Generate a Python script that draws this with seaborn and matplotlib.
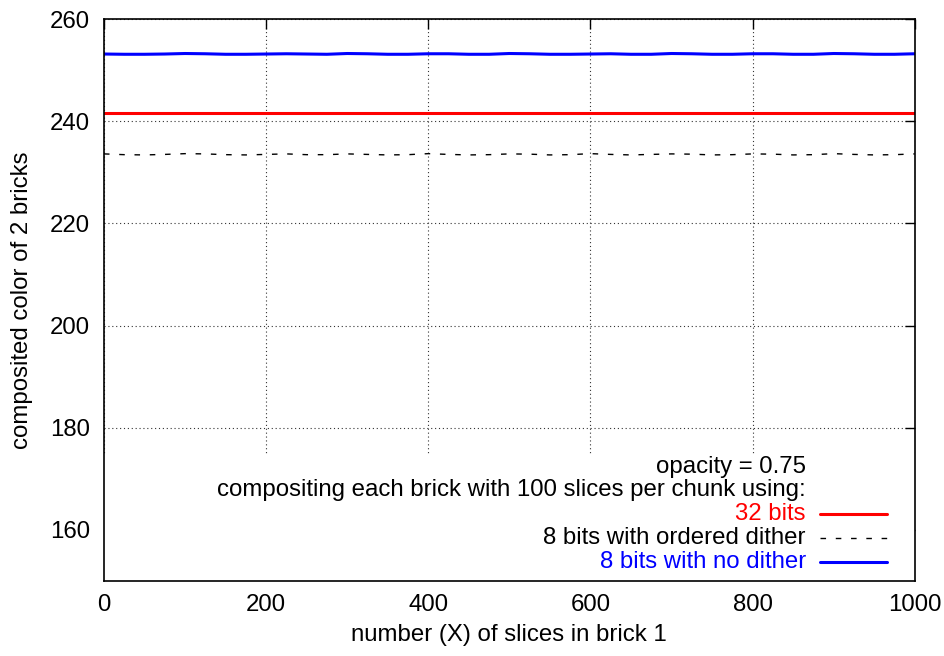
import os
import numpy as np
import pandas as pd
import matplotlib
matplotlib.use("Agg")
import matplotlib.pyplot as plt
import matplotlib.font_manager as fm
from matplotlib.patches import Rectangle
from matplotlib.lines import Line2D
import seaborn as sns

# number of slices in brick 1
slices = [0, 25, 50, 75, 100, 125, 150, 175, 200, 225, 250, 275, 300, 325, 350,
          375, 400, 425, 450, 475, 500, 525, 550, 575, 600, 625, 650, 675, 700,
          725, 750, 775, 800, 825, 850, 875, 900, 925, 950, 975, 1000]

# composited colour, 32-bit float compositing
bits32 = [241.65] * len(slices)

# composited colour, 8-bit with ordered dither
ordered_dither = [233.6, 233.45, 233.4, 233.5, 233.65, 233.6, 233.45, 233.4, 233.5,
                  233.6, 233.45, 233.45, 233.6, 233.5, 233.4, 233.45, 233.65, 233.5,
                  233.4, 233.45, 233.6, 233.55, 233.4, 233.45, 233.65, 233.5, 233.4,
                  233.5, 233.6, 233.55, 233.4, 233.45, 233.6, 233.55, 233.4, 233.45,
                  233.65, 233.5, 233.4, 233.45, 233.6]

# composited colour, 8-bit with no dither
no_dither = [253.15, 253.1, 253.1, 253.15, 253.25, 253.2, 253.1, 253.1, 253.15,
             253.2, 253.15, 253.1, 253.25, 253.2, 253.1, 253.1, 253.2, 253.2,
             253.1, 253.1, 253.25, 253.2, 253.1, 253.1, 253.15, 253.2, 253.1,
             253.1, 253.25, 253.2, 253.1, 253.1, 253.2, 253.2, 253.1, 253.1,
             253.25, 253.2, 253.1, 253.1, 253.2]

x_ticks = [0, 200, 400, 600, 800, 1000]
y_ticks = [160, 180, 200, 220, 240, 260]

key_header = ["opacity = 0.75", "compositing each brick with 100 slices per chunk using:"]
series_labels = ["32 bits", "8 bits with ordered dither", "8 bits with no dither"]

sns.set_style("white")

# prefer the regular (non-narrow) Liberation Sans face
family = "Liberation Sans"
for f in fm.findSystemFonts():
    if os.path.basename(f).lower() == "liberationsans-regular.ttf":
        fm.fontManager.addfont(f)
        family = fm.FontProperties(fname=f).get_name()
        break
plt.rcParams["font.family"] = [family, "DejaVu Sans"]
plt.rcParams["font.stretch"] = "normal"
plt.rcParams["text.color"] = "black"
plt.rcParams["axes.labelcolor"] = "black"
plt.rcParams["xtick.color"] = "black"
plt.rcParams["ytick.color"] = "black"

df = pd.DataFrame({"x": slices, "b32": bits32, "od": ordered_dither, "nd": no_dither})

fig = plt.figure(figsize=(9.45, 6.56), dpi=100)
ax = fig.add_axes([0.110, 0.1143, 0.858, 0.8567])

fs = 17.3

sns.lineplot(data=df, x="x", y="b32", ax=ax, color="#ff0000", linewidth=2.2, zorder=3)
sns.lineplot(data=df, x="x", y="od", ax=ax, color="black", linewidth=1.0,
             dashes=False, zorder=3).lines[-1].set_dashes([4, 7])
sns.lineplot(data=df, x="x", y="nd", ax=ax, color="#0000ff", linewidth=2.2, zorder=3)

ax.set_xlim(0, 1000)
ax.set_ylim(150, 260)
ax.set_xticks(x_ticks)
ax.set_yticks(y_ticks)
ax.tick_params(axis="both", which="both", direction="in", length=7, width=1,
               top=True, right=True, labelsize=fs, color="black", labelcolor="black")
ax.tick_params(axis="x", pad=9)
ax.tick_params(axis="y", pad=10)
for s in ax.spines.values():
    s.set_color("black")
    s.set_linewidth(1.2)
    s.set_zorder(5)

ax.set_axisbelow(True)
ax.grid(True, linestyle=(0, (1, 2.5)), color="#333333", linewidth=0.8)

ax.set_xlabel("number (X) of slices in brick 1", fontsize=fs, color="black")
ax.set_ylabel("composited color of 2 bricks", fontsize=fs, color="black")
ax.xaxis.set_label_coords(0.5, -0.076)
ax.yaxis.set_label_coords(-0.088, 0.5)

# key area blanks out the grid behind it
ax.add_patch(Rectangle((0, 0), 1, 0.224, transform=ax.transAxes,
                       facecolor="white", edgecolor="none", zorder=1))

text_x = 0.8656
y_rows = [0.2028, 0.1619, 0.1192, 0.0765, 0.0338]
for txt, yy in zip(key_header, y_rows[:2]):
    ax.text(text_x, yy, txt, transform=ax.transAxes, ha="right", va="center",
            fontsize=fs, color="black", zorder=4)

styles = [("#ff0000", 2.2, "-"), ("black", 1.0, (0, (4, 7))), ("#0000ff", 2.2, "-")]
for lab, yy, (col, lw, ls) in zip(series_labels, y_rows[2:], styles):
    ax.text(text_x, yy, lab, transform=ax.transAxes, ha="right", va="center",
            fontsize=fs, color=col, zorder=4)
    ax.add_line(Line2D([0.8829, 0.9655], [yy, yy], transform=ax.transAxes,
                       color=col, linewidth=lw, linestyle=ls, zorder=4))

fig.savefig("out.png", dpi=100)
